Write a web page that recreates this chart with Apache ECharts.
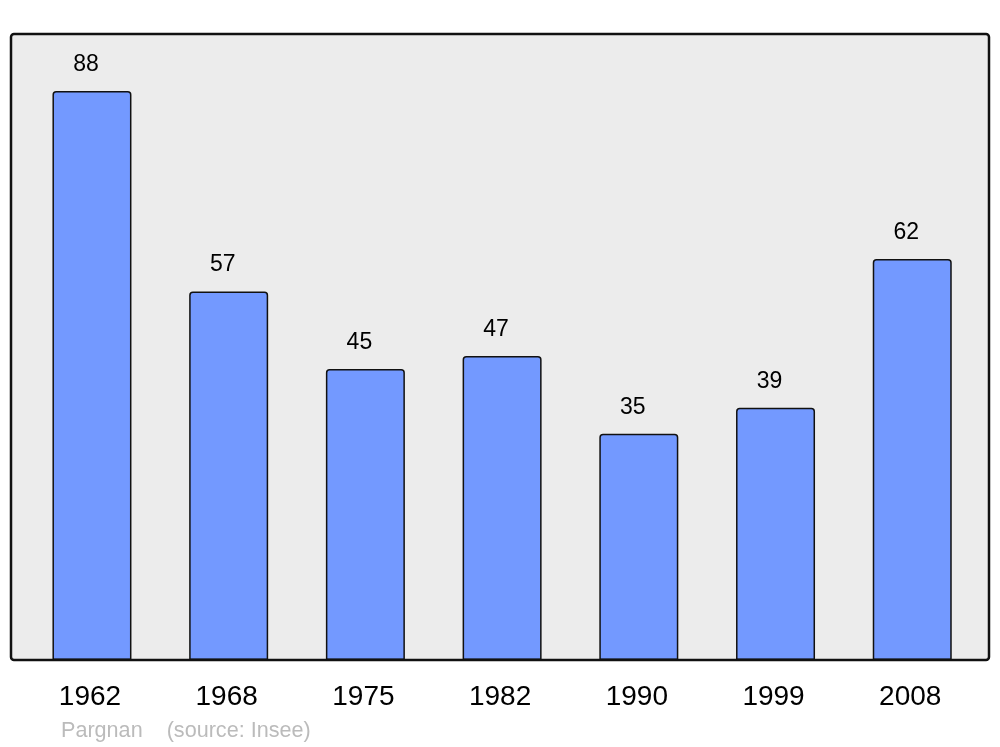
<!DOCTYPE html>
<html><head><meta charset="utf-8">
<script src="https://cdn.jsdelivr.net/npm/echarts@6/dist/echarts.min.js"></script>
<style>html,body{margin:0;padding:0;background:#fff}#c{width:1000px;height:747px}</style>
</head><body><div id="c"></div>
<script>
const years = ['1962','1968','1975','1982','1990','1999','2008'];
const population = [88,57,45,47,35,39,62];
const sourceText = 'Pargnan    (source: Insee)';

const chart = echarts.init(document.getElementById('c'), null, {renderer:'canvas'});
chart.setOption({
  animation:false,
  backgroundColor:'#ffffff',
  grid:{left:23.6, width:957, top:34, height:626},
  xAxis:{type:'category', data:years,
    axisLine:{show:false}, axisTick:{show:false},
    axisLabel:{fontSize:28, color:'#000', fontFamily:'Liberation Sans, Arial, sans-serif', margin:23, padding:[0,4,0,0]}},
  yAxis:{type:'value', min:0, max:96.8, show:false, splitLine:{show:false}},
  graphic:[
    {type:'rect', z:-10, shape:{x:11,y:34,width:978,height:626,r:3}, style:{fill:'#ececec', stroke:null}},
    {type:'rect', z:100, shape:{x:11,y:34,width:978,height:626,r:3}, style:{fill:null, stroke:'#111', lineWidth:2.5}},
    {type:'text', left:61, top:720, style:{text:sourceText, fill:'#bbbbbb', font:'21.6px "Liberation Sans", Arial, sans-serif'}}
  ],
  series:[{type:'bar', data:population, barWidth:79,
    itemStyle:{color:'#7399ff', borderColor:'#111', borderWidth:1.5, borderRadius:[3,3,0,0]},
    label:{show:true, position:'top', distance:15, offset:[-6,0], fontSize:23, color:'#000', fontFamily:'Liberation Sans, Arial, sans-serif'}
  }]
});
</script></body></html>
